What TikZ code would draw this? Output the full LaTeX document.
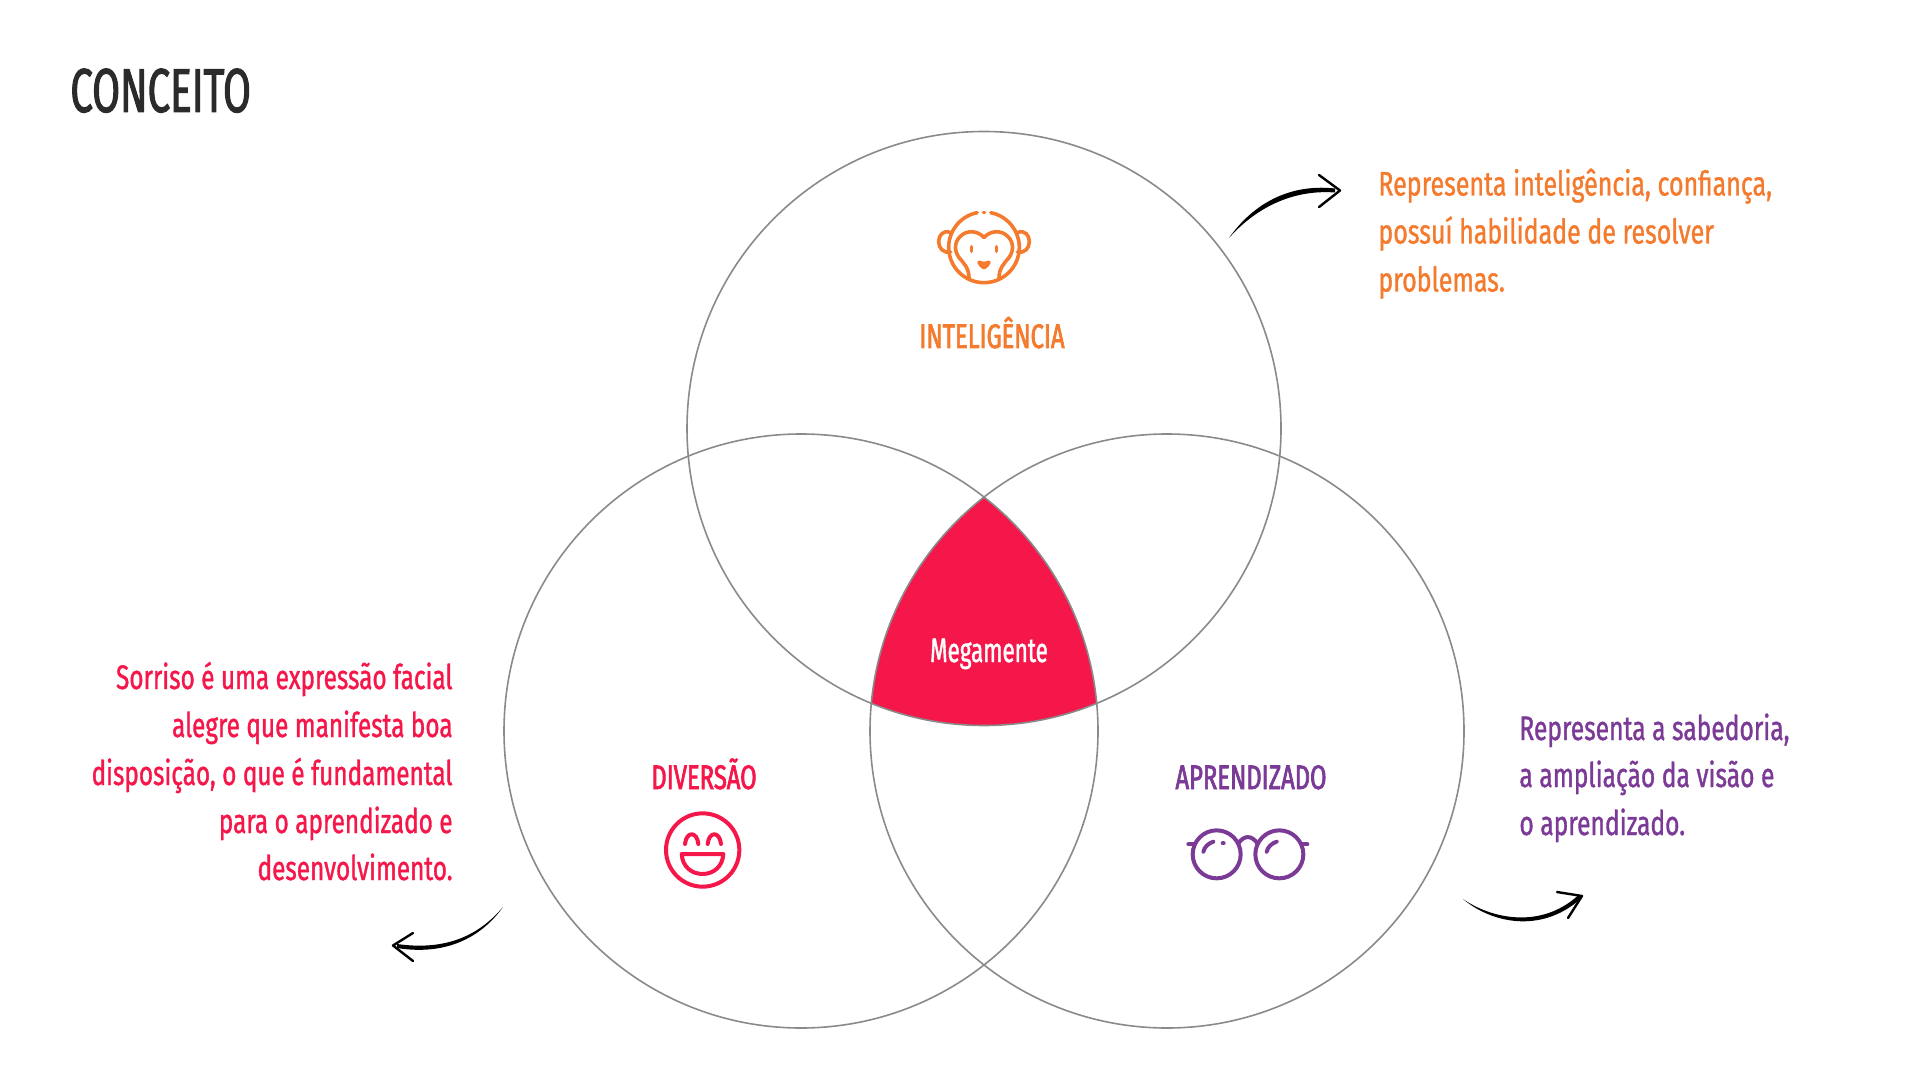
\documentclass[tikz,border=0pt]{standalone}
\usepackage{fontspec}
\setmainfont{Fira Sans}[FakeStretch=0.724,FakeBold=1.0]
\newfontfamily\orangefont{Fira Sans}[FakeStretch=0.735,FakeBold=1.0]
\newfontfamily\redfont{Fira Sans}[FakeStretch=0.716,FakeBold=1.0]
\newfontfamily\megafont{Fira Sans}[FakeStretch=0.66,FakeBold=1.2]
\newfontfamily\headfont{Fira Sans}[FakeStretch=0.70,FakeBold=2.0]
\newfontfamily\titlefont{Fira Sans}[FakeStretch=0.65,FakeBold=1.6]
\definecolor{orangeC}{HTML}{F47B2E}
\definecolor{redC}{HTML}{F5174A}
\definecolor{purpleC}{HTML}{7B3A96}
\definecolor{ringC}{HTML}{8A8A8A}
\definecolor{titleC}{HTML}{2B2B2B}
\tikzset{
  ring/.style={draw=ringC,line width=0.8pt},
  body/.style={inner sep=0pt,anchor=base west,font=\fontsize{17}{24}\selectfont},
  bodyO/.style={inner sep=0pt,anchor=base west,font=\orangefont\fontsize{17}{24}\selectfont},
  bodyR/.style={inner sep=0pt,anchor=base east,font=\redfont\fontsize{17}{24}\selectfont},
  head/.style={inner sep=0pt,anchor=base,font=\headfont\fontsize{17}{20}\selectfont},
  icon/.style={line width=1.8pt,line cap=round,line join=round},
  arrowtip/.style={line width=1.2pt,line cap=round,line join=round},
}
\begin{document}
\begin{tikzpicture}[x=0.5pt,y=-0.5pt]
\useasboundingbox (0,0) rectangle (1920,1080);
\coordinate (ct) at (984,428.5);
\coordinate (cl) at (801,731);
\coordinate (cr) at (1167,731);
\begin{scope}
  \clip (ct) circle[radius=297*0.5pt];
  \clip (cl) circle[radius=297*0.5pt];
  \fill[redC] (cr) circle[radius=297*0.5pt];
\end{scope}
\draw[ring] (ct) circle[radius=297*0.5pt];
\draw[ring] (cl) circle[radius=297*0.5pt];
\draw[ring] (cr) circle[radius=297*0.5pt];

\node[inner sep=0pt,anchor=base west,text=titleC,font=\titlefont\fontsize{31}{36}\selectfont] (title) at (70,112) {CONCEITO};
\node[head,text=orangeC] (lint) at (992,348) {INTELIGÊNCIA};
\node[head,text=redC] (ldiv) at (704,789) {DIVERSÃO};
\node[head,text=purpleC] (lapr) at (1251,789) {APRENDIZADO};
\node[inner sep=0pt,anchor=base,text=white,font=\megafont\fontsize{17}{20}\selectfont] (lmeg) at (989,662) {Megamente};

\begin{scope}[text=orangeC]
\node[bodyO] (o1) at (1378,195.5) {Representa inteligência, confiança,};
\node[bodyO] (o2) at (1378,243.5) {possuí habilidade de resolver};
\node[bodyO] (o3) at (1378,291.5) {problemas.};
\end{scope}
\begin{scope}[text=purpleC]
\node[body] (p1) at (1519,740) {Representa a sabedoria,};
\node[body] (p2) at (1519,787) {a ampliação da visão e};
\node[body] (p3) at (1519,835) {o aprendizado.};
\end{scope}
\begin{scope}[text=redC]
\node[bodyR] (r1) at (453,689) {Sorriso é uma expressão facial};
\node[bodyR] (r2) at (453,737) {alegre que manifesta boa};
\node[bodyR] (r3) at (453,785) {disposição, o que é fundamental};
\node[bodyR] (r4) at (453,833) {para o aprendizado e};
\node[bodyR] (r5) at (453,880) {desenvolvimento.};
\end{scope}

% arrows
\fill[black] (1229,238) .. controls (1250,208) and (1285,183) .. (1335,188.5) -- (1335,192.5) .. controls (1288,189) and (1252,212) .. (1229,238) -- cycle;
\draw[arrowtip] (1319,175) -- (1340,190.5) -- (1319,207);
\fill[black] (1463,899) .. controls (1490,918) and (1540,930) .. (1578,895.5) -- (1581,898.5) .. controls (1540,935) and (1490,922) .. (1463,899) -- cycle;
\draw[arrowtip] (1557,892) -- (1582,896) -- (1568,918);
\fill[black] (503,907) .. controls (475,940) and (440,950) .. (397,944) -- (397,948) .. controls (440,955) and (478,942) .. (503,907) -- cycle;
\draw[arrowtip] (413,933) -- (393,945.5) -- (413,961);

% monkey
\begin{scope}[shift={(900,190)},x=0.5pt/3,y=-0.5pt/3,icon,draw=orangeC]
  \draw (231.8,68) arc[start angle=-101,end angle=-439,radius=106];
  \draw (250,68) -- (254,68);
  \draw (150,127) .. controls (130,120) and (116,135) .. (116,155) .. controls (116,175) and (130,190) .. (152,186);
  \draw (354,127) .. controls (374,120) and (388,135) .. (388,155) .. controls (388,175) and (374,190) .. (352,186);
  \draw (207,264) .. controls (207,235) and (192,222) .. (186,213) .. controls (162,190) and (160,160) .. (180,140) .. controls (200,118) and (235,122) .. (252,143) .. controls (269,122) and (304,118) .. (324,140) .. controls (344,160) and (342,190) .. (318,213) .. controls (312,222) and (297,235) .. (297,264);
  \draw (215,170) -- (215,184);
  \draw (290,170) -- (290,184);
  \draw (237,217) -- (252,221) -- (267,217) .. controls (264,225) and (258,230) .. (252,233) .. controls (246,230) and (240,225) .. (237,217);
\end{scope}

% smiley
\begin{scope}[shift={(640,750)},x=0.5pt/3,y=-0.5pt/3,icon,draw=redC,line width=2pt]
  \draw (188,300) circle[radius=110];
  \draw (135,282) .. controls (139,243) and (171,243) .. (175,282);
  \draw (203,282) .. controls (207,243) and (239,243) .. (243,282);
  \draw (125,312) -- (250,312) .. controls (248,350) and (220,372) .. (188,372) .. controls (155,372) and (127,350) .. (125,312) -- cycle;
\end{scope}

% glasses
\begin{scope}[shift={(1170,810)},x=0.5pt/3,y=-0.5pt/3,icon,draw=purpleC,line width=2pt]
  \draw (140,133) circle[radius=72];
  \draw (328,133) circle[radius=72];
  \draw (205,100) .. controls (222,75) and (245,75) .. (262,100);
  \draw (55,103) -- (75,103);
  \draw (395,103) -- (412,103);
  \draw (100,125) .. controls (104,110) and (115,100) .. (130,95);
  \draw (290,125) .. controls (294,110) and (305,100) .. (320,95);
  \draw (158,100) -- (161,100);
\end{scope}
\end{tikzpicture}
\end{document}
